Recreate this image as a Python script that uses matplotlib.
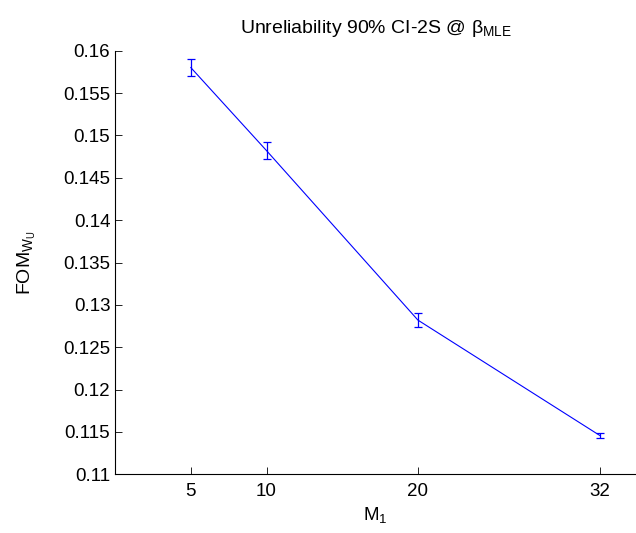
import numpy as np
import matplotlib.pyplot as plt

plt.rcParams['font.family'] = ['Liberation Sans', 'DejaVu Sans']
plt.rcParams['mathtext.fontset'] = 'custom'
plt.rcParams['mathtext.rm'] = 'Liberation Sans'
plt.rcParams['mathtext.it'] = 'Liberation Sans'
plt.rcParams['mathtext.default'] = 'regular'

# data
m1 = [5, 10, 20, 32]
fom = [0.1580, 0.1482, 0.1282, 0.1146]
err = [0.0010, 0.0010, 0.0008, 0.00025]
yticks = [0.11, 0.115, 0.12, 0.125, 0.13, 0.135, 0.14, 0.145, 0.15, 0.155, 0.16]
ytick_labels = ['0.11', '0.115', '0.12', '0.125', '0.13', '0.135', '0.14',
                '0.145', '0.15', '0.155', '0.16']

fig = plt.figure(figsize=(6.36, 5.33), dpi=100)
ax = fig.add_axes([0.181, 0.110, 0.819, 0.795])

ax.errorbar(m1, fom, yerr=err, color='blue', lw=0.8, elinewidth=0.9,
            capsize=3, capthick=0.9)

ax.set_xlim(0, 34.4)
ax.set_ylim(0.11, 0.16)
ax.set_xticks(m1)
ax.set_yticks(yticks)
ax.set_yticklabels(ytick_labels)
ax.tick_params(direction='in', length=5, width=0.6, labelsize=13.5)
ax.tick_params(axis='x', pad=6)
for s in ['top', 'right']:
    ax.spines[s].set_visible(False)
for s in ['left', 'bottom']:
    ax.spines[s].set_linewidth(0.8)

ax.set_xlabel('M$_1$', fontsize=13.5, labelpad=4)
ax.set_ylabel('FOM$_{W_U}$', fontsize=14, labelpad=18)
ax.set_title(r'Unreliability 90% CI-2S @ $\beta_{MLE}$', fontsize=14, pad=13)

fig.savefig('out.png', dpi=100)
